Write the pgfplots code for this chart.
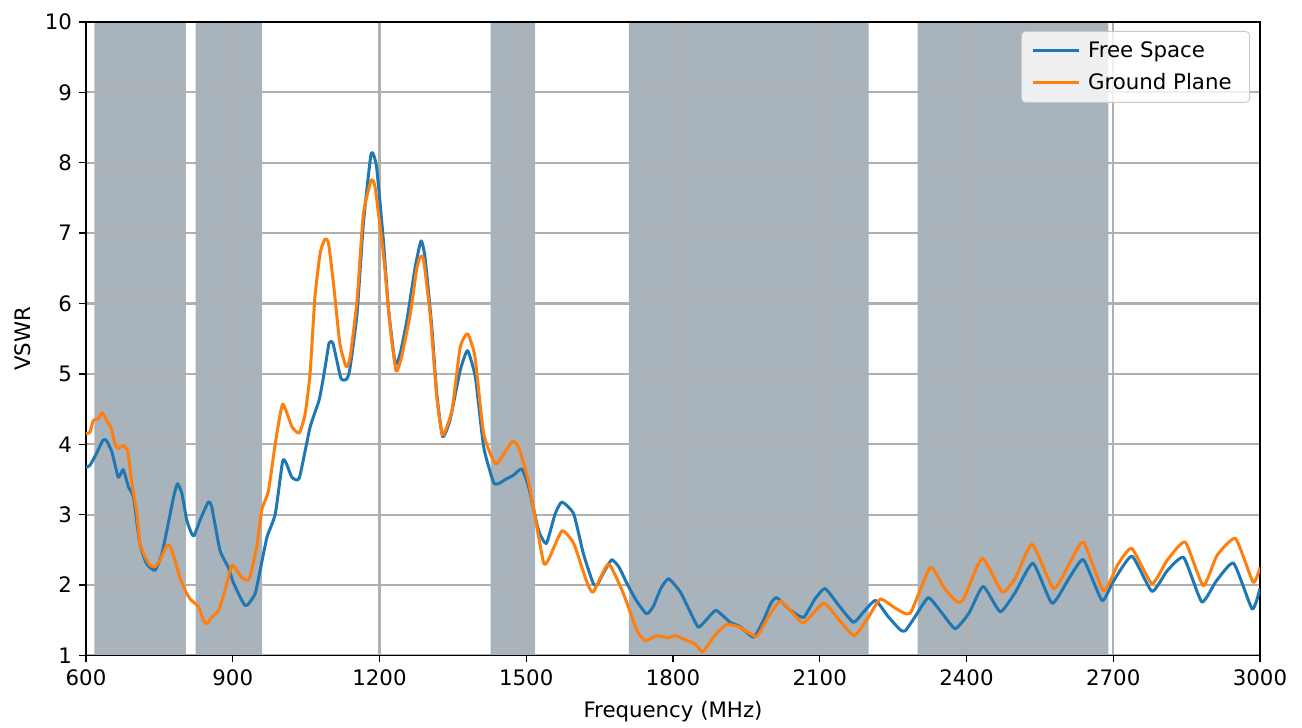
\documentclass[border=0pt]{standalone}
\usepackage{pgfplots}
\pgfplotsset{compat=1.18}
\usepackage{fontspec}
\setmainfont{DejaVu Sans}

\definecolor{mplblue}{HTML}{1F77B4}
\definecolor{mplorange}{HTML}{FF7F0E}
\definecolor{bandgray}{RGB}{112,128,144}
\definecolor{gridgray}{HTML}{B0B0B0}

\begin{document}
\begin{tikzpicture}
  \begin{axis}[
    set layers,
    scale only axis,
    width=587pt, height=316.7pt,
    xmin=600, xmax=3000,
    ymin=1, ymax=10,
    xtick={600,900,...,3000},
    ytick={1,...,10},
    xtick pos=bottom, ytick pos=left,
    xlabel={Frequency (MHz)},
    ylabel={VSWR},
    font=\fontsize{10.65}{12.5}\selectfont,
    /pgf/number format/assume math mode=true,
    /pgf/number format/1000 sep={},
    grid=major,
    grid style={gridgray, line width=1.1pt},
    tick align=outside,
    major tick length=3.5pt,
    tick style={black, line width=0.7pt},
    axis line style={black, line width=0.8pt},
    xlabel style={yshift=-1pt},
    ylabel style={yshift=0pt},
    legend style={at={(1,1)}, anchor=north east, xshift=-5pt, yshift=-4.5pt,
      fill=white, fill opacity=0.8, text opacity=1, draw=gridgray!70,
      rounded corners=2pt, row sep=2.5pt, inner xsep=5pt, inner ysep=3pt,
      nodes={inner xsep=4pt}},
    legend cell align=left,
    legend image code/.code={\draw[#1, line width=1.5pt] (0cm,0cm) -- (0.8cm,0cm);},
  ]
  % frequency bands
  \addplot[on layer=axis background, draw=none, fill=bandgray, fill opacity=0.6, forget plot]
    coordinates {(617,1) (617,10) (804,10) (804,1)} \closedcycle;
  \addplot[on layer=axis background, draw=none, fill=bandgray, fill opacity=0.6, forget plot]
    coordinates {(824,1) (824,10) (960,10) (960,1)} \closedcycle;
  \addplot[on layer=axis background, draw=none, fill=bandgray, fill opacity=0.6, forget plot]
    coordinates {(1427,1) (1427,10) (1518,10) (1518,1)} \closedcycle;
  \addplot[on layer=axis background, draw=none, fill=bandgray, fill opacity=0.6, forget plot]
    coordinates {(1710,1) (1710,10) (2200,10) (2200,1)} \closedcycle;
  \addplot[on layer=axis background, draw=none, fill=bandgray, fill opacity=0.6, forget plot]
    coordinates {(2300,1) (2300,10) (2690,10) (2690,1)} \closedcycle;

  \addplot[mplblue, line width=1.5pt, line join=round, smooth, tension=0.3]
    coordinates {
      (600,3.67) (608,3.70) (620,3.85) (635,4.06) (642,4.05) (653,3.89)
      (666,3.53) (676,3.64) (687,3.39) (697,3.25) (710,2.59) (724,2.30)
      (741,2.21) (755,2.44) (768,2.87) (779,3.25) (787,3.44) (796,3.30)
      (806,2.92) (816,2.73) (821,2.70) (833,2.92) (850,3.18) (857,3.11)
      (874,2.49) (891,2.25) (901,2.04) (915,1.83) (925,1.71) (932,1.73)
      (946,1.88) (956,2.21) (970,2.68) (987,3.01) (1002,3.76) (1010,3.72)
      (1021,3.53) (1036,3.52) (1058,4.24) (1077,4.64) (1089,5.10) (1097,5.44)
      (1105,5.43) (1121,4.94) (1132,4.92) (1139,5.05) (1154,5.85) (1167,7.13)
      (1183,8.13) (1194,7.94) (1208,6.89) (1218,5.95) (1232,5.15) (1242,5.28)
      (1256,5.76) (1273,6.52) (1285,6.89) (1293,6.66) (1307,5.66) (1317,4.72)
      (1329,4.11) (1344,4.34) (1365,5.05) (1380,5.33) (1396,4.95) (1413,3.96)
      (1433,3.46) (1443,3.44) (1460,3.51) (1474,3.56) (1491,3.65) (1505,3.39)
      (1525,2.78) (1541,2.59) (1559,3.01) (1573,3.18) (1597,3.01) (1617,2.44)
      (1637,2.02) (1645,2.00) (1660,2.20) (1675,2.36) (1690,2.25) (1706,2.02)
      (1725,1.78) (1746,1.59) (1760,1.70) (1775,1.95) (1791,2.09) (1815,1.90)
      (1835,1.62) (1852,1.40) (1870,1.52) (1888,1.64) (1917,1.47) (1937,1.41)
      (1965,1.26) (1985,1.50) (2000,1.74) (2012,1.82) (2040,1.64) (2067,1.54)
      (2090,1.80) (2111,1.95) (2140,1.70) (2169,1.47) (2190,1.62) (2214,1.78)
      (2240,1.55) (2265,1.36) (2275,1.35) (2295,1.55) (2322,1.82) (2350,1.60)
      (2377,1.38) (2405,1.60) (2434,1.98) (2469,1.62) (2500,1.90) (2536,2.31)
      (2575,1.74) (2610,2.10) (2639,2.36) (2677,1.78) (2700,2.05) (2738,2.41)
      (2779,1.91) (2810,2.20) (2844,2.39) (2881,1.76) (2910,2.05) (2946,2.31)
      (2984,1.66) (3000,1.95)
    };
  \addlegendentry{Free Space}

  \addplot[mplorange, line width=1.5pt, line join=round, smooth, tension=0.3]
    coordinates {
      (600,4.15) (608,4.17) (615,4.34) (625,4.36) (633,4.45) (642,4.34)
      (651,4.24) (659,4.01) (666,3.94) (676,3.98) (685,3.91) (693,3.49)
      (704,3.01) (710,2.59) (721,2.40) (731,2.28) (741,2.26) (751,2.35)
      (765,2.56) (772,2.55) (782,2.35) (792,2.11) (803,1.92) (813,1.80)
      (830,1.69) (840,1.50) (847,1.45) (857,1.54) (871,1.64) (884,1.92)
      (898,2.28) (908,2.21) (918,2.11) (929,2.07) (935,2.11) (949,2.54)
      (959,3.06) (973,3.34) (987,4.01) (1002,4.57) (1021,4.25) (1036,4.16)
      (1048,4.43) (1058,5.00) (1068,6.09) (1079,6.73) (1089,6.92) (1096,6.85)
      (1106,6.28) (1119,5.43) (1132,5.10) (1140,5.24) (1154,6.04) (1167,7.27)
      (1183,7.75) (1191,7.65) (1208,6.70) (1222,5.66) (1234,5.04) (1245,5.24)
      (1263,5.85) (1276,6.49) (1283,6.66) (1290,6.63) (1304,5.81) (1317,4.68)
      (1329,4.13) (1348,4.48) (1365,5.38) (1380,5.57) (1395,5.25) (1413,4.15)
      (1438,3.72) (1471,4.04) (1484,3.96) (1505,3.46) (1535,2.33) (1546,2.37)
      (1573,2.77) (1597,2.59) (1624,2.04) (1637,1.90) (1668,2.30) (1699,1.87)
      (1726,1.36) (1743,1.21) (1767,1.28) (1790,1.25) (1805,1.28) (1845,1.16)
      (1861,1.05) (1885,1.28) (1910,1.44) (1937,1.40) (1971,1.27) (1995,1.55)
      (2019,1.77) (2045,1.60) (2067,1.46) (2108,1.74) (2140,1.50) (2171,1.28)
      (2200,1.55) (2224,1.80) (2255,1.67) (2285,1.60) (2326,2.25) (2355,1.95)
      (2381,1.76) (2394,1.80) (2432,2.38) (2473,1.90) (2500,2.10) (2534,2.58)
      (2578,1.95) (2610,2.30) (2639,2.61) (2680,1.92) (2710,2.30) (2738,2.52)
      (2779,2.02) (2810,2.35) (2847,2.61) (2884,1.99) (2912,2.42) (2950,2.66)
      (2986,2.04) (3000,2.25)
    };
  \addlegendentry{Ground Plane}
  \end{axis}
  \pgfresetboundingbox
  \path ([xshift=-43pt,yshift=-36pt]current axis.south west)
    rectangle ([xshift=21pt,yshift=11pt]current axis.north east);
\end{tikzpicture}
\end{document}
